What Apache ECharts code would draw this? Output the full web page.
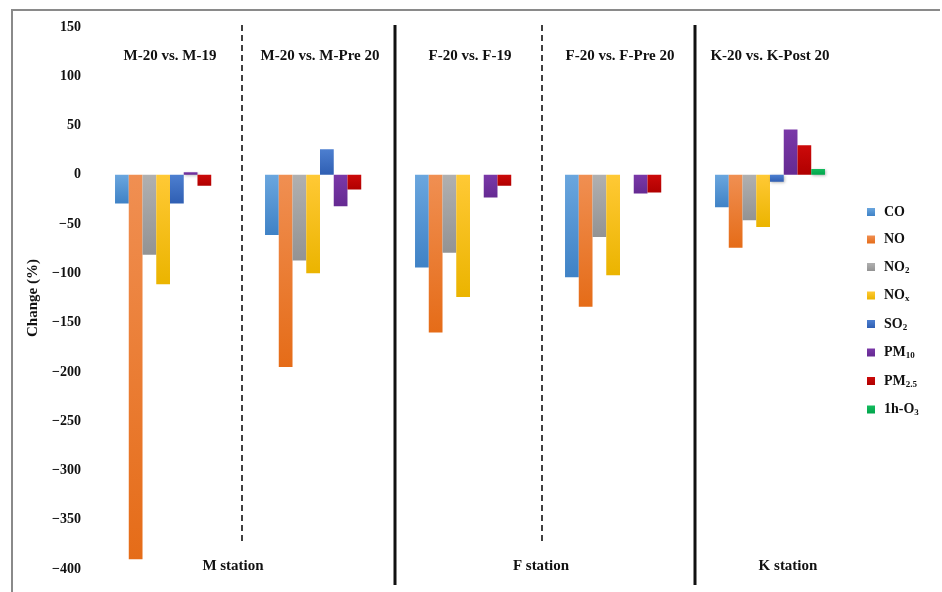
<!DOCTYPE html>
<html>
<head>
<meta charset="utf-8">
<script src="https://cdn.jsdelivr.net/npm/echarts@6/dist/echarts.min.js"></script>
<style>
  html, body { margin: 0; padding: 0; background: #fff; }
  #chart { width: 942px; height: 592px; }
</style>
</head>
<body>
<div id="chart"></div>
<script>
// Comparison groups (one per category on the x axis)
const groups = ['M-20 vs. M-19', 'M-20 vs. M-Pre 20', 'F-20 vs. F-19', 'F-20 vs. F-Pre 20', 'K-20 vs. K-Post 20'];

// Percentage change per pollutant, in group order (null = not reported)
const CO    = [-29, -61, -94, -104, -33];
const NO    = [-390, -195, -160, -134, -74];
const NO2   = [-81, -87, -79, -63, -46];
const NOx   = [-111, -100, -124, -102, -53];
const SO2   = [-29, 26, null, null, -7];
const PM10  = [2.5, -32, -23, -19, 46];
const PM25  = [-11, -15, -11, -18, 30];
const O3_1h = [null, null, null, null, 6];

const seriesNames = ['CO', 'NO', 'NO2', 'NOx', 'SO2', 'PM10', 'PM2.5', '1h-O3'];
const seriesData  = [CO, NO, NO2, NOx, SO2, PM10, PM25, O3_1h];

// Station captions and the group boundaries they sit on
const stations = [
  { text: 'M station', boundary: 1, dx: -12 },
  { text: 'F station', boundary: 3, dx: -4 },
  { text: 'K station', boundary: 4.5, dx: 18 }
];

// y-axis ticks
const yMin = -400, yMax = 150, yStep = 50;

// Fill colours: top / bottom of each bar's gradient
const fills = [
  ['#6aa6de', '#3f82c6'],
  ['#f08f52', '#e56c18'],
  ['#b0b0b0', '#939393'],
  ['#ffc935', '#ebb400'],
  ['#4d7fd0', '#2f5fb3'],
  ['#7a38a8', '#652a92'],
  ['#cc0a0a', '#b00000'],
  ['#15bb5e', '#00a54b']
];

const serif = '"Liberation Serif", "Times New Roman", serif';

const legendLabels = {
  'CO': 'CO',
  'NO': 'NO',
  'NO2': 'NO{s|2}',
  'NOx': 'NO{s|x}',
  'SO2': 'SO{s|2}',
  'PM10': 'PM{s|10}',
  'PM2.5': 'PM{s|2.5}',
  '1h-O3': '1h-O{s|3}'
};

const chart = echarts.init(document.getElementById('chart'));

const series = seriesNames.map((name, i) => ({
  name: name,
  type: 'bar',
  barGap: '0%',
  barCategoryGap: '26.7%',
  data: seriesData[i],
  itemStyle: {
    color: new echarts.graphic.LinearGradient(0, 0, 0, 1, [
      { offset: 0, color: fills[i][0] },
      { offset: 1, color: fills[i][1] }
    ]),
    shadowColor: 'rgba(0,0,0,0.28)',
    shadowBlur: 3,
    shadowOffsetX: 1,
    shadowOffsetY: 1
  }
}));

chart.setOption({
  animation: false,
  backgroundColor: '#fff',
  grid: { left: 95, right: 97, top: 27, bottom: 23 },
  legend: {
    orient: 'vertical',
    left: 862,
    top: 200,
    itemWidth: 8,
    itemHeight: 8,
    itemGap: 13.5,
    icon: 'rect',
    data: seriesNames,
    formatter: name => legendLabels[name],
    textStyle: {
      fontFamily: serif,
      fontWeight: 'bold',
      fontSize: 14,
      color: '#111',
      padding: [0, 0, 0, 4],
      rich: {
        s: { fontFamily: serif, fontWeight: 'bold', fontSize: 9, color: '#111', padding: [7, 0, 0, 0] }
      }
    }
  },
  xAxis: {
    type: 'category',
    data: groups,
    position: 'top',
    axisLine: { show: false },
    axisTick: { show: false },
    axisLabel: {
      inside: true,
      interval: 0,
      margin: 22,
      fontFamily: serif,
      fontWeight: 'bold',
      fontSize: 15,
      color: '#111'
    }
  },
  yAxis: {
    type: 'value',
    min: yMin,
    max: yMax,
    interval: yStep,
    name: 'Change (%)',
    nameLocation: 'middle',
    nameGap: 49,
    nameRotate: 90,
    nameTextStyle: { fontFamily: serif, fontWeight: 'bold', fontSize: 15, color: '#111' },
    axisLine: { show: false },
    axisTick: { show: false },
    splitLine: { show: false },
    axisLabel: {
      margin: 14,
      fontFamily: serif,
      fontWeight: 'bold',
      fontSize: 14,
      color: '#111',
      formatter: v => v < 0 ? '\u2212' + Math.abs(v) : String(v)
    }
  },
  series: series
});

// Boundaries between groups, taken from the category axis
const c0 = chart.convertToPixel({ xAxisIndex: 0 }, 0);
const c1 = chart.convertToPixel({ xAxisIndex: 0 }, 1);
const band = c1 - c0;
const boundaryX = k => c0 - band / 2 + band * k;

const graphics = [];

// Outer frame
graphics.push({
  type: 'polyline',
  shape: { points: [[12, 600], [12, 10], [940, 10]] },
  style: { stroke: '#8a8a8a', lineWidth: 2, fill: null },
  silent: true
});

// Dashed separators within a station, solid ones between stations
[[1, 'dashed', 545], [2, 'solid', 585], [3, 'dashed', 545], [4, 'solid', 585]].forEach(([k, kind, y2]) => {
  const x = Math.round(boundaryX(k)) + (kind === 'solid' ? 0 : -3);
  graphics.push({
    type: 'line',
    shape: { x1: x, y1: 25, x2: x, y2: y2 },
    style: {
      stroke: '#111',
      lineWidth: kind === 'solid' ? 3 : 1.6,
      lineDash: kind === 'solid' ? null : [6, 4]
    },
    silent: true
  });
});

// Station captions
stations.forEach(s => {
  graphics.push({
    type: 'text',
    x: boundaryX(s.boundary) + s.dx,
    y: 566,
    style: {
      text: s.text,
      font: 'bold 15px ' + serif,
      fill: '#111',
      textAlign: 'center',
      textVerticalAlign: 'middle'
    },
    silent: true
  });
});

chart.setOption({ graphic: graphics });
</script>
</body>
</html>
